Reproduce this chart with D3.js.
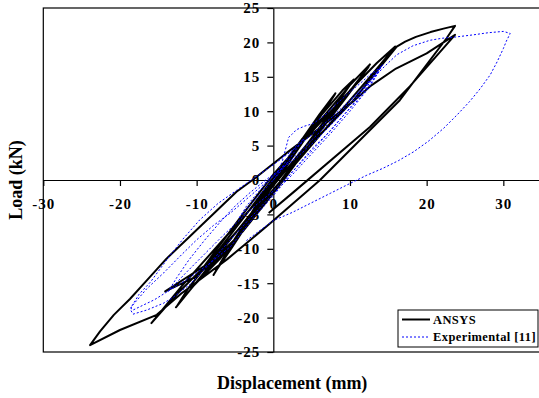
<!DOCTYPE html>
<html>
<head>
<meta charset="utf-8">
<script src="https://cdn.jsdelivr.net/npm/d3@7"></script>
<style>
  html, body { margin: 0; padding: 0; background: #fff; }
  svg { display: block; }
  text { font-family: "Liberation Serif", "Times New Roman", serif; font-weight: bold; fill: #000; }
</style>
</head>
<body>
<svg id="chart" width="539" height="398"></svg>
<script>
// Axis ticks
const xTicks = [-30, -20, -10, 0, 10, 20, 30];
const yTicks = [-25, -20, -15, -10, -5, 0, 5, 10, 15, 20, 25];

// Legend entries
const seriesNames = ["ANSYS", "Experimental [11]"];

// ANSYS hysteresis response: [displacement (mm), load (kN)]
const ansysCurve = [
  [0, 0], [1.5, 2.5], [3.5, 5.5], [2, 2.8], [0.3, 0], [-1.8, -3.2], [-3.8, -6.5],
  [-2.3, -3.8], [-0.3, -0.5], [1.8, 3], [3.8, 6],
  [6, 9.5], [8.1, 12.6], [6.3, 9.6], [3.5, 5], [1, 0.8], [-2.5, -4.5], [-5.5, -9.5],
  [-7.8, -13.8], [-6, -10.5], [-3, -5.2], [0, 0.2], [4, 6.2], [8, 12.4], [6, 9],
  [2, 2.5], [-2, -4], [-5.5, -10], [-7.5, -13.2],
  [-5, -8.5], [-1.5, -2.5], [2, 3.2], [6, 8.5], [10, 13.8], [12.6, 16.8], [10.5, 13.5],
  [6, 7], [2, 1.2], [-2, -4.5], [-7, -11.5], [-10.5, -15.5], [-12.7, -18.5],
  [-10, -14.8], [-5, -7.8], [0, -0.8], [5, 6], [9, 11.5], [12.4, 16.4], [9.5, 12],
  [5, 5.5], [1, -0.5], [-4, -7.5], [-9, -13.5], [-12.5, -18.2], [-11, -15.6],
  [-7, -10], [-3, -4.2], [1, 1.8], [5, 7.8], [9, 13], [10.5, 14.6], [8, 10.6],
  [4, 4.6], [0, -1.6], [-5, -8.6], [-10, -14], [-14.1, -16.2],
  [-9, -12.5], [-4, -5], [0, 0.8], [5, 7], [10, 13], [13.5, 17], [15.9, 19.4],
  [13, 15.5], [8, 9], [3, 2.5], [-2, -4], [-8, -11.5], [-12.5, -16.5], [-15.9, -20.8],
  [-12, -15.5], [-6, -8], [0, -0.5], [6, 6.5], [10.4, 11.5], [14, 16.5], [16.1, 19.4],
  [17.2, 20.1], [18.6, 20.8], [20.5, 21.5], [22.2, 22], [23.7, 22.4],
  [22.6, 20.6], [16.5, 11.6], [6.1, 0], [-0.4, -6.3], [-6, -11.5], [-12, -16.5],
  [-15.2, -19.6], [-20, -21.8], [-23.9, -24],
  [-22.6, -22], [-20.8, -19.6], [-18.7, -17.3], [-16.5, -14.6], [-13.9, -11.4],
  [-10.9, -8.2], [-7.8, -4.9], [-4.8, -1.7], [-2.4, 0.25], [1.7, 3.9], [6, 7.5],
  [10.5, 11.5], [12.6, 13.6], [16, 16.2], [20, 18.4], [23.7, 21.1],
  [17.8, 13.6], [12.6, 7.7], [2.6, -1.8], [-0.6, -4.8]
];

// Experimental hysteresis response: [displacement (mm), load (kN)]
const experimentalCurve = [
  [0, 0], [1, 1.5], [2, 3.5], [3, 5], [4, 6], [3, 4.5], [1.5, 2], [0, 0],
  [-1.5, -1.8], [-3, -3.6], [-4.5, -5.6], [-3.5, -3.8], [-2, -1.8], [-0.5, 0],
  [0.6, 1.2], [1.2, 2.8], [2, 6.2], [2.4, 6.6], [3, 7.3], [4, 7.8], [5.2, 8.2],
  [6.2, 9], [7, 9.7], [8.3, 11.1], [10, 12.8], [11.5, 14.2], [12.6, 15.3], [13.5, 16],
  [14.1, 16.5],
  [13.2, 14.8], [11.5, 12.2], [9, 9.2], [6.5, 6], [4, 3], [2, 0.6], [0, -1.6],
  [-2, -3.4], [-4, -5.4], [-6.5, -8], [-9, -10.8], [-11.5, -13.6], [-13.7, -16.2],
  [-12.6, -14.2], [-11, -11.6], [-9, -8.8], [-7, -6.2], [-5, -3.8], [-3, -1.8],
  [-1, 0], [1, 1.6], [3, 3.2], [5, 5.2], [7, 7.4], [9, 9.8], [11, 12.2], [12.8, 14.6],
  [13.8, 15.8],
  [12.4, 13.3], [10, 10], [7.5, 6.8], [5, 3.8], [2.5, 0.8], [0, -2], [-3, -5.5],
  [-6, -9.2], [-8.5, -12.4], [-10.9, -15.2], [-13, -17], [-14.3, -17.9],
  [-16.5, -18.9], [-18.3, -19.5], [-18.6, -18.9], [-18.5, -18.4],
  [-16.5, -15.8], [-14.3, -13.5], [-12, -10.9], [-10, -8.7], [-7.8, -6.6],
  [-5.6, -4.8], [-3, -2.3], [0, 0.6], [3, 3.6], [6, 6.9], [9, 10.2], [12, 13.8],
  [14.3, 16.8],
  [12.5, 14], [10, 10.5], [7.5, 7.2], [5, 4.5], [2.5, 1.2], [0, -2.3], [-2.8, -5.8],
  [-5.6, -9.7], [-8.5, -12.3], [-11.3, -14.5], [-13.5, -16], [-15.5, -17.4],
  [-18.3, -18.9], [-18.6, -18.6],
  [-17.5, -16.6], [-16, -14.8], [-13.9, -11.6], [-11.8, -8.6], [-9.6, -5.8],
  [-7.2, -3.4], [-4.8, -1.5], [-2.5, 0.3], [0, 2.2], [2.5, 4.3], [5, 6.6], [7.5, 9],
  [10, 11.6], [12.5, 14.2], [14.5, 16.5], [16.1, 18.2], [18.2, 19.5], [20.4, 20.3],
  [22, 20.6], [23.9, 20.8], [26.1, 21.1], [28, 21.4], [30, 21.6], [30.9, 21.3],
  [30.4, 20.2], [30, 19.1], [29.2, 17.2], [28.3, 15.3], [27, 13.3], [25.6, 11.4],
  [24, 9.5], [22.2, 7.5], [20.3, 5.7], [18.3, 4.1], [16.3, 2.8], [14.3, 1.7],
  [12.2, 0.7], [10, -0.5], [7.5, -1.9], [5, -3.3], [2.5, -4.7], [0, -5.9],
  [-1.7, -7.3], [-3.5, -8.8]
];

const svg = d3.select("#chart");

const x = d3.scaleLinear().domain([-30, 40]).range([43.3, 580]);
const y = d3.scaleLinear().domain([-25, 25]).range([352, 8]);

// Plot frame
svg.append("rect")
  .attr("x", x(-30)).attr("y", y(25))
  .attr("width", x(40) - x(-30)).attr("height", y(-25) - y(25))
  .attr("fill", "none").attr("stroke", "#000").attr("stroke-width", 1.2);

// Axes through the origin
const xAxis = d3.axisBottom(x).tickValues(xTicks).tickSize(6).tickPadding(12)
  .tickSizeOuter(0).tickFormat(d => String(d));
const yAxis = d3.axisLeft(y).tickValues(yTicks).tickSize(6).tickPadding(7)
  .tickSizeOuter(0).tickFormat(d => String(d));

const gx = svg.append("g").attr("transform", `translate(0,${y(0)})`).call(xAxis);
const gy = svg.append("g").attr("transform", `translate(${x(0)},0)`).call(yAxis);

[gx, gy].forEach(g => {
  g.select(".domain").attr("stroke", "#000").attr("stroke-width", 1.2);
  g.selectAll(".tick line").attr("stroke", "#000").attr("stroke-width", 1.2);
  g.selectAll(".tick text")
    .style("font-family", '"Liberation Serif", "Times New Roman", serif')
    .style("font-weight", "bold")
    .style("font-size", "15px")
    .style("letter-spacing", "1px")
    .attr("fill", "#000");
});

// Curves
svg.append("clipPath").attr("id", "plotClip")
  .append("rect").attr("x", x(-30)).attr("y", y(25))
  .attr("width", x(40) - x(-30)).attr("height", y(-25) - y(25));

const line = d3.line().x(d => x(d[0])).y(d => y(d[1])).curve(d3.curveLinear);

const curves = svg.append("g").attr("clip-path", "url(#plotClip)");
curves.append("path").datum(ansysCurve)
  .attr("d", line).attr("fill", "none")
  .attr("stroke", "#000").attr("stroke-width", 2)
  .attr("stroke-linejoin", "round");
curves.append("path").datum(experimentalCurve)
  .attr("d", line).attr("fill", "none")
  .attr("stroke", "#0000ff").attr("stroke-width", 1)
  .attr("stroke-dasharray", "2,2");

// Axis titles
svg.append("text")
  .attr("x", (x(-30) + 541) / 2).attr("y", 389)
  .attr("text-anchor", "middle")
  .style("font-size", "18px")
  .text("Displacement (mm)");

svg.append("text")
  .attr("transform", `translate(16,${y(0)}) rotate(-90)`)
  .attr("text-anchor", "middle").attr("dy", "0.35em")
  .style("font-size", "18px")
  .text("Load (kN)");

// Legend
const legend = svg.append("g").attr("transform", "translate(398,310)");
legend.append("rect").attr("width", 140).attr("height", 37)
  .attr("fill", "#fff").attr("stroke", "#000").attr("stroke-width", 1);
const legendStyles = [
  { stroke: "#000", width: 2, dash: null },
  { stroke: "#0000ff", width: 1, dash: "2,2" }
];
seriesNames.forEach((name, i) => {
  const cy = 9.5 + i * 17.5;
  legend.append("line")
    .attr("x1", 4).attr("x2", 32).attr("y1", cy).attr("y2", cy)
    .attr("stroke", legendStyles[i].stroke)
    .attr("stroke-width", legendStyles[i].width)
    .attr("stroke-dasharray", legendStyles[i].dash);
  legend.append("text")
    .attr("x", 35).attr("y", cy).attr("dy", "0.35em")
    .style("font-size", "12.5px")
    .style("letter-spacing", "0.4px")
    .text(name);
});
</script>
</body>
</html>
